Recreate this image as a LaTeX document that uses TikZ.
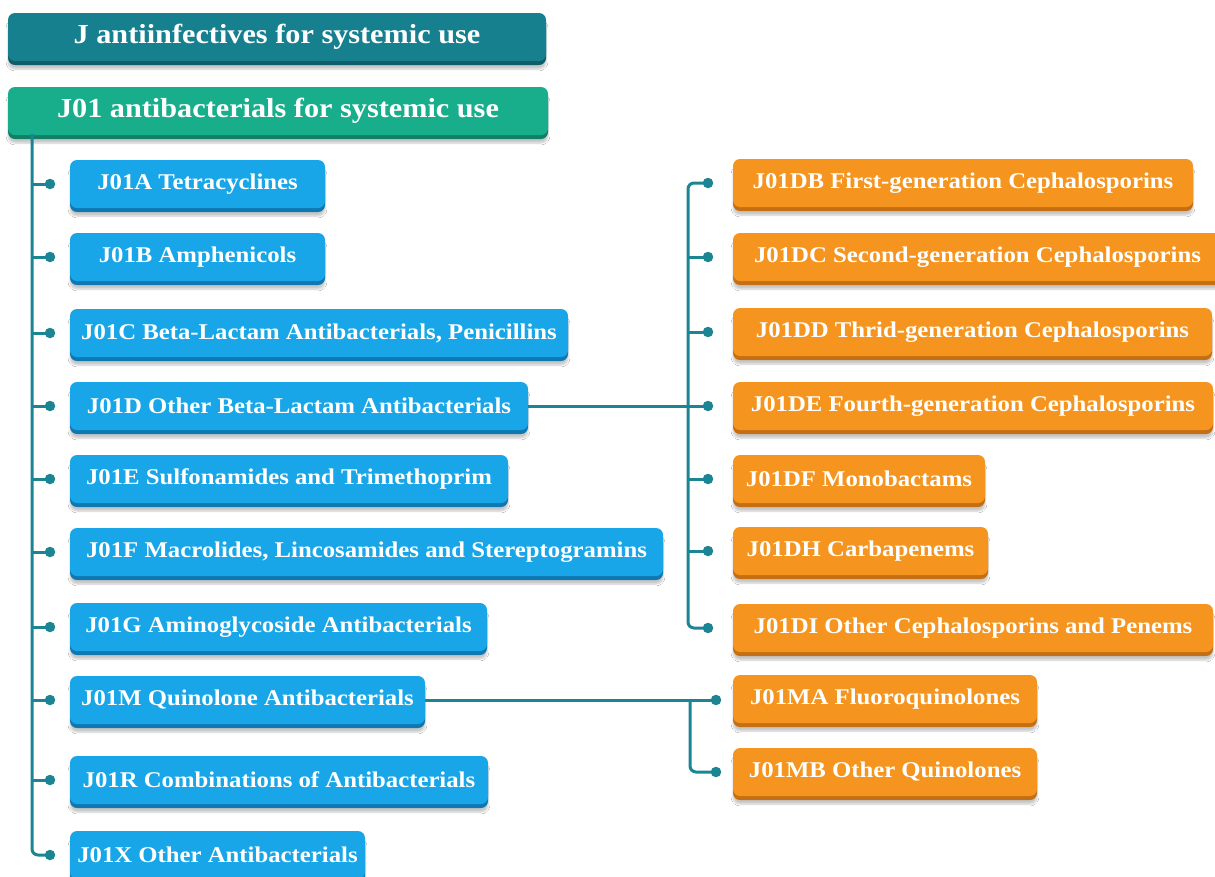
\documentclass[tikz,border=0pt]{standalone}
\usepackage{fontspec}
\setmainfont{Liberation Serif}[FakeStretch=1.1]
\usetikzlibrary{shadows.blur}
\definecolor{tealbox}{HTML}{17808F}
\definecolor{tealdark}{HTML}{0E5D69}
\definecolor{greenbox}{HTML}{18AE8B}
\definecolor{greendark}{HTML}{0F8066}
\definecolor{bluebox}{HTML}{19A6E8}
\definecolor{bluedark}{HTML}{0F78B0}
\definecolor{orangebox}{HTML}{F5951F}
\definecolor{orangedark}{HTML}{C46F14}
\definecolor{linec}{HTML}{1C8594}
\tikzset{
  basebox/.style={rounded corners=7pt, minimum height=48pt, inner sep=0pt, text=white,
    font=\bfseries\fontsize{22.5}{26}\selectfont,
    blur shadow={shadow xshift=0pt, shadow yshift=-8pt, shadow opacity=22, shadow blur steps=6}},
  bbox/.style={basebox, fill=bluebox, preaction={fill=bluedark, transform canvas={yshift=-4pt}}},
  obox/.style={basebox, fill=orangebox, preaction={fill=orangedark, transform canvas={yshift=-4pt}}},
  tbox/.style={basebox, fill=tealbox, font=\bfseries\fontsize{27.5}{30}\selectfont, preaction={fill=tealdark, transform canvas={yshift=-4pt}}},
  gbox/.style={basebox, fill=greenbox, font=\bfseries\fontsize{27.5}{30}\selectfont, preaction={fill=greendark, transform canvas={yshift=-4pt}}},
  conn/.style={draw=linec, line width=3pt},
  dotc/.style={circle, fill=linec, inner sep=0pt, minimum size=10.5pt},
}
\begin{document}
\begin{tikzpicture}[x=1pt,y=-1pt]
\useasboundingbox (0,0) rectangle (1215,876);
\fill[white] (0,0) rectangle (1215,876);

% headers
\node[tbox, minimum width=538pt] (J) at (277,37) {J antiinfectives for systemic use};
\node[gbox, minimum width=540pt] (J01) at (278,111) {J01 antibacterials for systemic use};

% blue boxes
\node[bbox, minimum width=255pt] (A) at (197.5,184) {J01A Tetracyclines};
\node[bbox, minimum width=255pt] (B) at (197.5,257) {J01B Amphenicols};
\node[bbox, minimum width=498pt] (C) at (319,333) {J01C Beta-Lactam Antibacterials, Penicillins};
\node[bbox, minimum width=458pt] (D) at (299,406) {J01D Other Beta-Lactam Antibacterials};
\node[bbox, minimum width=438pt] (E) at (289,479) {J01E Sulfonamides and Trimethoprim};
\node[bbox, minimum width=593pt] (F) at (366.5,552) {J01F Macrolides, Lincosamides and Stereptogramins};
\node[bbox, minimum width=417pt] (G) at (278.5,627) {J01G Aminoglycoside Antibacterials};
\node[bbox, minimum width=355pt] (M) at (247.5,700) {J01M Quinolone Antibacterials};
\node[bbox, minimum width=418pt] (R) at (279,780) {J01R Combinations of Antibacterials};
\node[bbox, minimum width=295pt] (X) at (217.5,855) {J01X Other Antibacterials};

% orange boxes
\node[obox, minimum width=460pt] (DB) at (963,183) {J01DB First-generation Cephalosporins};
\node[obox, minimum width=489pt] (DC) at (977.5,257) {J01DC Second-generation Cephalosporins};
\node[obox, minimum width=479pt] (DD) at (972.5,332) {J01DD Thrid-generation Cephalosporins};
\node[obox, minimum width=480pt] (DE) at (973,406) {J01DE Fourth-generation Cephalosporins};
\node[obox, minimum width=252pt] (DF) at (859,479) {J01DF Monobactams};
\node[obox, minimum width=255pt] (DH) at (860.5,551) {J01DH Carbapenems};
\node[obox, minimum width=480pt] (DI) at (973,628) {J01DI Other Cephalosporins and Penems};
\node[obox, minimum width=304pt] (MA) at (885,699) {J01MA Fluoroquinolones};
\node[obox, minimum width=304pt] (MB) at (885,772) {J01MB Other Quinolones};

% dots on trunk
\foreach \n/\y in {dA/184,dB/257,dC/333,dD/406,dE/479,dF/552,dG/627,dM/700,dR/780,dX/855}
  \node[dotc] (\n) at (50,\y) {};
\foreach \n/\y in {dDB/183,dDC/257,dDD/332,dDE/406,dDF/479,dDH/551,dDI/628}
  \node[dotc] (\n) at (708,\y) {};
\node[dotc] (dMA) at (716,700) {};
\node[dotc] (dMB) at (716,772) {};

% trunk
\coordinate (t0) at (32,134);
\draw[conn, rounded corners=6pt] (t0) |- (dX.center);
\foreach \n in {dA,dB,dC,dD,dE,dF,dG,dM,dR}
  \draw[conn] (32,0 |- \n.center) -- (\n.center);

% D branch
\coordinate (bD) at (688,406);
\draw[conn] (D.east) -- (dDE.center);
\draw[conn, rounded corners=6pt] (dDB.center) -| (bD) |- (dDI.center);
\foreach \n in {dDC,dDD,dDF,dDH}
  \draw[conn] (688,0 |- \n.center) -- (\n.center);

% M branch
\coordinate (bM) at (690,700);
\draw[conn] (M.east) -- (dMA.center);
\draw[conn, rounded corners=6pt] (bM) |- (dMB.center);
\end{tikzpicture}
\end{document}
